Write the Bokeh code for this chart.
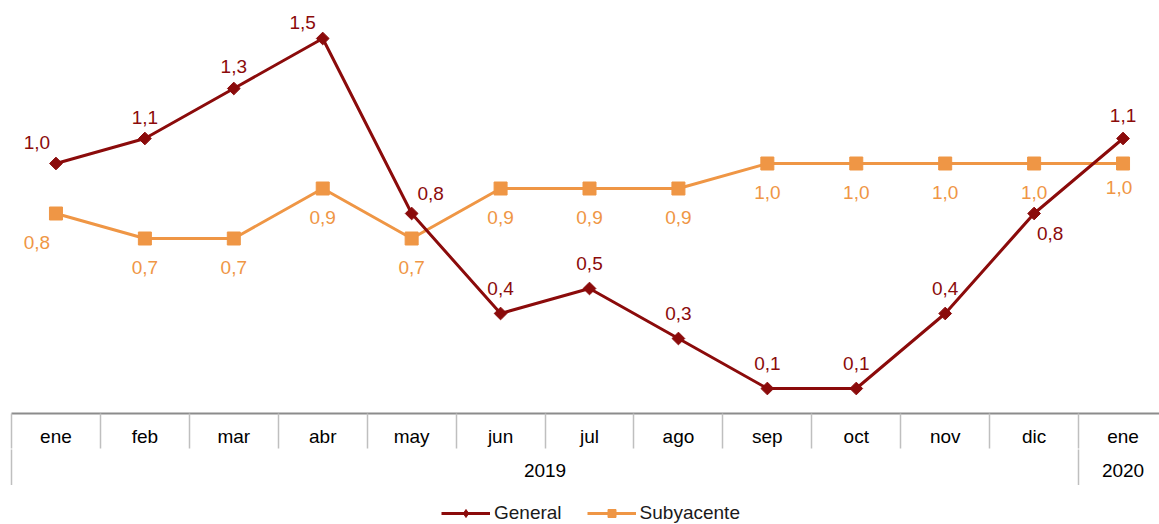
import math
from bokeh.plotting import figure
from bokeh.layouts import column
from bokeh.models import (Range1d, LinearAxis, FixedTicker, Legend, LegendItem,
                          ColumnDataSource)
from bokeh.core.properties import value
from bokeh.embed import file_html
from bokeh.resources import INLINE

months = ["ene", "feb", "mar", "abr", "may", "jun", "jul", "ago", "sep", "oct", "nov", "dic", "ene"]
years = ["2019", "2020"]
general = [1.0, 1.1, 1.3, 1.5, 0.8, 0.4, 0.5, 0.3, 0.1, 0.1, 0.4, 0.8, 1.1]
subyacente = [0.8, 0.7, 0.7, 0.9, 0.7, 0.9, 0.9, 0.9, 1.0, 1.0, 1.0, 1.0, 1.0]
series_names = ["General", "Subyacente"]

# label placement (screen px offsets)
gen_dx = [-19, 0, 0, -20, 19, 0, 0, 0, 0, 0, 0, 16, 0]
gen_dy = [-21, -21, -22, -16, -20, -25, -25, -25, -25, -25, -25, 20, -23]
sub_dx = [-19, 0, 0, 0, 0, 0, 0, 0, 0, 0, 0, 0, -4]
sub_dy = [29, 29, 29, 29, 29, 29, 29, 29, 29, 29, 29, 29, 24]

RED = "#8B0B0B"
ORANGE = "#EF9645"
FONT = "Liberation Sans"
FS = "19px"

x = list(range(len(months)))

p = figure(width=1159, height=485, output_backend="svg", toolbar_location=None,
           x_range=Range1d(-0.5, 12.41), y_range=Range1d(0, 1.62),
           x_axis_location=None, y_axis_location=None,
           min_border_left=11, min_border_right=0, min_border_top=8, min_border_bottom=72)
p.frame_width = 1148
p.frame_height = 405
p.outline_line_color = None
p.xgrid.visible = False
p.ygrid.visible = False

src_g = ColumnDataSource(dict(x=x, y=general, t=[f"{v:.1f}".replace(".", ",") for v in general],
                              dx=gen_dx, dy=gen_dy))
src_s = ColumnDataSource(dict(x=x, y=subyacente, t=[f"{v:.1f}".replace(".", ",") for v in subyacente],
                              dx=sub_dx, dy=sub_dy))

p.line("x", "y", source=src_s, line_color=ORANGE, line_width=3)
p.scatter("x", "y", source=src_s, marker="square", size=13, fill_color=ORANGE, line_color=ORANGE)
p.line("x", "y", source=src_g, line_color=RED, line_width=3)
p.scatter("x", "y", source=src_g, marker="square", angle=math.pi / 4, size=9,
          fill_color=RED, line_color=RED)

p.text("x", "y", text="t", source=src_g, x_offset="dx", y_offset="dy",
       text_color=RED, text_font=value(FONT), text_font_size=FS,
       text_align="center", text_baseline="middle")
p.text("x", "y", text="t", source=src_s, x_offset="dx", y_offset="dy",
       text_color=ORANGE, text_font=value(FONT), text_font_size=FS,
       text_align="center", text_baseline="middle")

ax1 = LinearAxis(ticker=FixedTicker(ticks=x, minor_ticks=[i - 0.5 for i in range(14)]),
                 major_label_overrides={i: m for i, m in enumerate(months)},
                 major_tick_out=0, major_tick_in=0,
                 minor_tick_out=35, minor_tick_in=0,
                 minor_tick_line_color="#bfbfbf", minor_tick_line_width=1.5,
                 axis_line_color="#8c8c8c", axis_line_width=2,
                 major_label_text_font=FONT, major_label_text_font_size=FS,
                 major_label_text_color="#000000",
                 major_label_standoff=-23)
p.add_layout(ax1, "below")

ax2 = LinearAxis(ticker=FixedTicker(ticks=[5.5, 12], minor_ticks=[-0.5, 11.5]),
                 major_label_overrides={5.5: years[0], 12: years[1]},
                 major_tick_out=0, major_tick_in=0,
                 minor_tick_out=36, minor_tick_in=0,
                 minor_tick_line_color="#bfbfbf", minor_tick_line_width=1.5,
                 axis_line_color=None,
                 major_label_text_font=FONT, major_label_text_font_size=FS,
                 major_label_text_color="#000000",
                 major_label_standoff=-22)
p.add_layout(ax2, "below")

# legend strip under the chart (series drawn off-range so only the legend shows)
p2 = figure(width=1159, height=39, output_backend="svg", toolbar_location=None,
            x_range=Range1d(100, 101), y_range=Range1d(100, 101),
            x_axis_location=None, y_axis_location=None,
            min_border_left=0, min_border_right=0, min_border_top=0, min_border_bottom=0)
p2.outline_line_color = None
p2.xgrid.visible = False
p2.ygrid.visible = False
lg = p2.line(x, general, line_color=RED, line_width=3)
mg = p2.scatter(x, general, marker="diamond", size=12, fill_color=RED, line_color=RED)
ls = p2.line(x, subyacente, line_color=ORANGE, line_width=3)
ms = p2.scatter(x, subyacente, marker="square", size=10, fill_color=ORANGE, line_color=ORANGE)

legend = Legend(items=[LegendItem(label=series_names[0], renderers=[lg, mg]),
                       LegendItem(label=series_names[1], renderers=[ls, ms])],
                orientation="horizontal", location=(430, 0),
                border_line_color=None, background_fill_alpha=0,
                label_text_font=FONT, label_text_font_size=FS, label_text_color="#1a1a1a",
                glyph_width=49, glyph_height=20, label_height=20, label_standoff=4, spacing=25,
                padding=0, margin=0)
p2.add_layout(legend)

open("out.html", "w").write(file_html(column(p, p2), INLINE))
